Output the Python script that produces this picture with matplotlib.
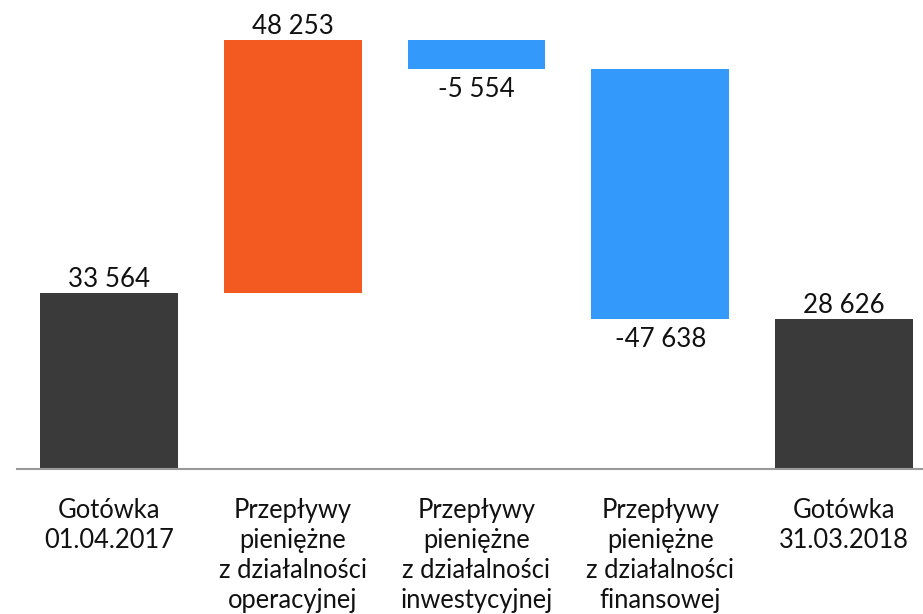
import matplotlib.pyplot as plt

plt.rcParams["font.family"] = ["Lato", "DejaVu Sans"]

# Data
categories = [
    "Gotówka\n01.04.2017",
    "Przepływy\npieniężne\nz działalności\noperacyjnej",
    "Przepływy\npieniężne\nz działalności\ninwestycyjnej",
    "Przepływy\npieniężne\nz działalności\nfinansowej",
    "Gotówka\n31.03.2018",
]
values = [33564, 48253, -5554, -47638, 28626]
kinds = ["total", "delta", "delta", "delta", "total"]

colors = {"total": "#3a3a3a", "up": "#f25a22", "down": "#3399fa"}

# Waterfall bottoms / heights
bottoms, heights, bar_colors = [], [], []
running = 0
for v, k in zip(values, kinds):
    if k == "total":
        bottoms.append(0)
        heights.append(v)
        bar_colors.append(colors["total"])
        running = v
    else:
        if v >= 0:
            bottoms.append(running)
            bar_colors.append(colors["up"])
        else:
            bottoms.append(running + v)
            bar_colors.append(colors["down"])
        heights.append(abs(v))
        running += v

fig = plt.figure(figsize=(9.23, 6.14), dpi=100)
ax = fig.add_axes([0, 0.236, 1, 0.764])

x = list(range(len(values)))
ax.bar(x, heights, bottom=bottoms, width=0.75, color=bar_colors)

# Value labels
for i, (v, k) in enumerate(zip(values, kinds)):
    txt = f"{v:,}".replace(",", " ")
    if v >= 0:
        ax.annotate(txt, (i, bottoms[i] + heights[i]), xytext=(0, 1),
                    textcoords="offset points", ha="center", va="bottom",
                    fontsize=18.6, color="#111111")
    else:
        ax.annotate(txt, (i, bottoms[i]), xytext=(0, -5.5),
                    textcoords="offset points", ha="center", va="top",
                    fontsize=18.6, color="#111111")

ax.set_xlim(-0.593, 4.43)
ax.set_ylim(0, 89440)

ax.plot([-0.5, 4.43], [0, 0], color="#999999", linewidth=1.5, clip_on=False)

for s in ax.spines.values():
    s.set_visible(False)
ax.set_yticks([])
ax.set_xticks(x)
ax.set_xticklabels(categories, fontsize=18.4, color="#111111", linespacing=1.26)
ax.tick_params(axis="x", length=0, pad=20.5)

fig.savefig("out.png", dpi=100)
